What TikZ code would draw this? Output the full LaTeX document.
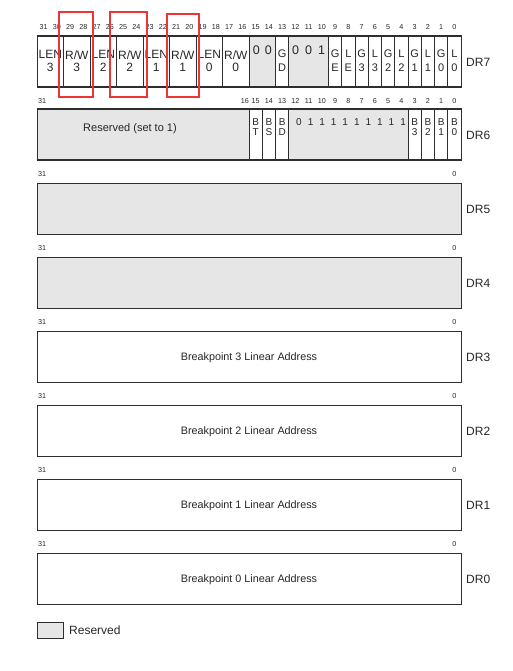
\documentclass[tikz,border=0pt]{standalone}
\usepackage{fontspec}
\setmainfont{Liberation Sans}
\usepackage{xcolor}
\usepackage{tikz}
\usetikzlibrary{positioning,calc}

\definecolor{regtext}{HTML}{262626}
\definecolor{regline}{HTML}{2E2E2E}
\definecolor{resfill}{HTML}{E6E6E6}
\definecolor{markred}{HTML}{EE3535}

\begin{document}
\begin{tikzpicture}[x=1pt, y=-1pt,
        cell/.style={draw=regline, line width=0.7pt},
        reg box/.style={draw=regline, line width=1pt},
        wide field/.style={align=center, inner sep=0pt, text=regtext, font=\fontsize{12}{12.5}\selectfont},
        bit field/.style={align=center, inner sep=0pt, text=regtext, font=\fontsize{11}{14}\selectfont},
        small field/.style={align=center, inner sep=0pt, text=regtext, font=\fontsize{10}{10.5}\selectfont},
        fixed bits/.style={inner sep=0pt, text=regtext},
        bit num/.style={inner sep=0pt, text=regtext, font=\fontsize{7.2}{7.2}\selectfont},
        reg name/.style={anchor=west, inner sep=0pt, text=regtext, font=\fontsize{12}{12}\selectfont},
        reg text/.style={inner sep=0pt, text=regtext, font=\fontsize{10.8}{10.8}\selectfont},
        mark box/.style={draw=markred, line width=2.6pt}]
    \useasboundingbox (0,0) rectangle (513,671);

    % DR7
    \foreach \hi/\lo/\txt [count=\i] in {31/30/{LEN\\3}, 29/28/{R/W\\3}, 27/26/{LEN\\2}, 25/24/{R/W\\2},
            23/22/{LEN\\1}, 21/20/{R/W\\1}, 19/18/{LEN\\0}, 17/16/{R/W\\0}} {
        \draw[cell] ({37+(31-\hi)*13.25},36) rectangle ({37+(32-\lo)*13.25},87);
        \node[wide field] (dr7f\i) at ({37+(63-\hi-\lo)/2*13.25},61) {\txt};
    }
    \draw[cell, fill=resfill] ({37+16*13.25},36) rectangle ({37+18*13.25},87);
    \node[fixed bits, font=\fontsize{12.5}{12.5}\selectfont] (dr7z) at ({37+17*13.25},50) {\spaceskip=5pt\relax 0 0};
    \draw[cell, fill=resfill] ({37+19*13.25},36) rectangle ({37+22*13.25},87);
    \node[fixed bits, font=\fontsize{12.5}{12.5}\selectfont] (dr7o) at ({37+20.5*13.25},50) {\spaceskip=6pt\relax 0 0 1};
    \foreach \b/\txt in {13/{G\\D}, 9/{G\\E}, 8/{L\\E}, 7/{G\\3}, 6/{L\\3}, 5/{G\\2},
            4/{L\\2}, 3/{G\\1}, 2/{L\\1}, 1/{G\\0}, 0/{L\\0}} {
        \draw[cell] ({37+(31-\b)*13.25},36) rectangle ({37+(32-\b)*13.25},87);
        \node[bit field] (dr7b\b) at ({37+(31.5-\b)*13.25},61) {\txt};
    }
    \draw[reg box] (37,36) rectangle (461,87);
    \foreach \b in {0,...,31}
        \node[bit num] (dr7n\b) at ({37+(31.5-\b)*13.25},27) {\b};
    \node[reg name] (dr7) at (466,62) {DR7};

    % DR6
    \draw[cell, fill=resfill] (37,109) rectangle ({37+16*13.25},160);
    \node[reg text, font=\fontsize{11}{11}\selectfont] (dr6res) at (130,129) {Reserved (set to 1)};
    \foreach \b/\txt in {15/{B\\T}, 14/{B\\S}, 13/{B\\D}, 3/{B\\3}, 2/{B\\2}, 1/{B\\1}, 0/{B\\0}} {
        \draw[cell] ({37+(31-\b)*13.25},109) rectangle ({37+(32-\b)*13.25},160);
        \node[small field] (dr6b\b) at ({37+(31.5-\b)*13.25},127) {\txt};
    }
    \draw[cell, fill=resfill] ({37+19*13.25},109) rectangle ({37+28*13.25},160);
    \node[fixed bits, font=\fontsize{10}{10}\selectfont] (dr6o) at ({37+23.7*13.25},122) {\spaceskip=6pt\relax 0 1 1 1 1 1 1 1 1 1};
    \draw[reg box] (37,109) rectangle (461,160);
    \node[bit num, anchor=west] (dr6n31) at (38,101) {31};
    \node[bit num, anchor=east] (dr6n16) at ({37+16*13.25},101) {16};
    \foreach \b in {0,...,15}
        \node[bit num] (dr6n\b) at ({37+(31.5-\b)*13.25},101) {\b};
    \node[reg name] (dr6) at (466,135) {DR6};

    % DR5 .. DR0
    \foreach \top/\r/\fc/\txt in {183/5/resfill/{}, 257/4/resfill/{},
            331/3/white/{Breakpoint 3 Linear Address}, 405/2/white/{Breakpoint 2 Linear Address},
            479/1/white/{Breakpoint 1 Linear Address}, 553/0/white/{Breakpoint 0 Linear Address}} {
        \draw[reg box, fill=\fc] (37,\top) rectangle (461,{\top+51});
        \node[reg text] (dr\r text) at (249,{\top+27}) {\txt};
        \node[bit num, anchor=west] (dr\r n31) at (38,{\top-9}) {31};
        \node[bit num] (dr\r n0) at ({37+31.5*13.25},{\top-9}) {0};
        \node[reg name] (dr\r) at (466,{\top+26.5}) {DR\r};
    }

    % red marks round the R/W fields
    \draw[mark box] (59,12) rectangle (93,97);
    \draw[mark box] (110,12) rectangle (147,97);
    \draw[mark box] (167,14) rectangle (199,97);

    % legend
    \draw[cell, fill=resfill] (37,622) rectangle (63,638);
    \node[reg name] (legend) at (69,630) {Reserved};
\end{tikzpicture}
\end{document}
